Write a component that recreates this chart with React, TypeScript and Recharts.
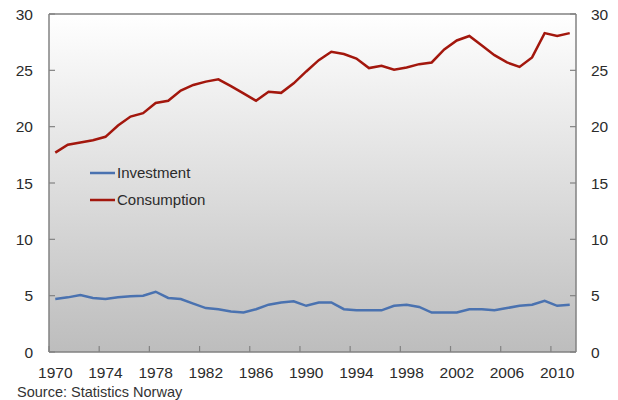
import { LineChart, Line, XAxis, YAxis, CartesianGrid, ReferenceLine, Legend } from 'recharts'

const years = [
  1970, 1971, 1972, 1973, 1974, 1975, 1976, 1977, 1978, 1979,
  1980, 1981, 1982, 1983, 1984, 1985, 1986, 1987, 1988, 1989,
  1990, 1991, 1992, 1993, 1994, 1995, 1996, 1997, 1998, 1999,
  2000, 2001, 2002, 2003, 2004, 2005, 2006, 2007, 2008, 2009,
  2010, 2011,
]

const consumption = [
  17.7, 18.4, 18.6, 18.8, 19.1, 20.1, 20.9, 21.2, 22.1, 22.3,
  23.2, 23.7, 24.0, 24.2, 23.6, 22.95, 22.3, 23.1, 23.0, 23.85,
  24.9, 25.9, 26.65, 26.45, 26.05, 25.2, 25.4, 25.05, 25.25, 25.55,
  25.7, 26.85, 27.65, 28.05, 27.2, 26.35, 25.7, 25.3, 26.15, 28.3,
  28.05, 28.3,
]

const investment = [
  4.7, 4.85, 5.05, 4.8, 4.7, 4.85, 4.95, 5.0, 5.35, 4.8,
  4.7, 4.3, 3.9, 3.8, 3.6, 3.5, 3.8, 4.2, 4.4, 4.5,
  4.1, 4.4, 4.4, 3.8, 3.7, 3.7, 3.7, 4.1, 4.2, 4.0,
  3.5, 3.5, 3.5, 3.8, 3.8, 3.7, 3.9, 4.1, 4.2, 4.55,
  4.1, 4.2,
]

const xTicks = [1970, 1974, 1978, 1982, 1986, 1990, 1994, 1998, 2002, 2006, 2010]
const yTicks = [0, 5, 10, 15, 20, 25, 30]

const data = years.map((year, i) => ({
  year,
  investment: investment[i],
  consumption: consumption[i],
}))

const FONT = '"Liberation Sans", Arial, sans-serif'
const AXIS = '#828282'
const TEXT = '#2b2b2b'
const BLUE = '#4a72b0'
const RED = '#a3170d'

function LeftTick({ x, y, payload }: any) {
  return (
    <g>
      <line x1={x + 16} x2={x + 22} y1={y} y2={y} stroke={AXIS} strokeWidth={1.2} />
      <text x={x} y={y} dy="0.36em" textAnchor="end" fill={TEXT} fontSize={15.5} fontFamily={FONT}>
        {payload.value}
      </text>
    </g>
  )
}

function RightTick({ x, y, payload }: any) {
  return (
    <g>
      <line x1={x - 15} x2={x - 21} y1={y} y2={y} stroke={AXIS} strokeWidth={1.2} />
      <text x={x} y={y} dy="0.36em" textAnchor="start" fill={TEXT} fontSize={15.5} fontFamily={FONT}>
        {payload.value}
      </text>
    </g>
  )
}

// tick marks sit on the category boundary left of each labelled year
function BottomTick({ x, y, payload, width }: any) {
  const half = width / years.length / 2
  return (
    <g>
      <line x1={x - half} x2={x - half} y1={y - 15} y2={y - 21} stroke={AXIS} strokeWidth={1.2} />
      <text x={x} y={y} dy="0.71em" textAnchor="middle" fill={TEXT} fontSize={15.5} fontFamily={FONT}>
        {payload.value}
      </text>
    </g>
  )
}

function ChartLegend() {
  const items = [
    { label: 'Investment', color: BLUE },
    { label: 'Consumption', color: RED },
  ]
  return (
    <div style={{ fontFamily: FONT, fontSize: 15, color: TEXT }}>
      {items.map(it => (
        <div key={it.label} style={{ display: 'flex', alignItems: 'center', height: 27 }}>
          <svg width={27} height={6}>
            <line x1={0} x2={25} y1={3} y2={3} stroke={it.color} strokeWidth={2.5} />
          </svg>
          <span>{it.label}</span>
        </div>
      ))}
    </div>
  )
}

export default function App() {
  return (
    <div style={{ position: 'absolute', top: 0, left: 0, width: 618, height: 400, background: '#fff' }}>
      <LineChart width={618} height={400} data={data} margin={{ top: 14, right: 0, bottom: 22, left: 0 }}>
        <defs>
          <linearGradient id="plotBg" x1="0" y1="0" x2="0" y2="1">
            <stop offset="0%" stopColor="#ffffff" />
            <stop offset="100%" stopColor="#bdbdbd" />
          </linearGradient>
        </defs>
        <CartesianGrid yAxisId="left" horizontal={false} vertical={false} fill="url(#plotBg)" />
        <XAxis
          dataKey="year"
          type="number"
          domain={[1969.5, 2011.5]}
          ticks={xTicks}
          interval={0}
          height={26}
          tickSize={0}
          tickMargin={15}
          tickLine={false}
          axisLine={{ stroke: AXIS, strokeWidth: 1.5 }}
          tick={<BottomTick />}
        />
        <YAxis
          yAxisId="left"
          domain={[0, 30]}
          ticks={yTicks}
          width={49}
          tickSize={0}
          tickMargin={16}
          tickLine={false}
          axisLine={{ stroke: AXIS, strokeWidth: 1.5 }}
          tick={<LeftTick />}
        />
        <YAxis
          yAxisId="right"
          orientation="right"
          domain={[0, 30]}
          ticks={yTicks}
          width={42}
          tickSize={0}
          tickMargin={15}
          tickLine={false}
          axisLine={{ stroke: AXIS, strokeWidth: 1.5 }}
          tick={<RightTick />}
        />
        <ReferenceLine yAxisId="left" y={30} stroke={AXIS} strokeWidth={1.5} />
        <Legend
          layout="horizontal"
          verticalAlign="middle"
          align="center"
          content={<ChartLegend />}
          wrapperStyle={{ position: 'absolute', left: 90, top: 159, width: 'auto', height: 'auto' }}
        />
        <Line
          yAxisId="left"
          dataKey="investment"
          stroke={BLUE}
          strokeWidth={2.5}
          dot={false}
          isAnimationActive={false}
        />
        <Line
          yAxisId="right"
          dataKey="consumption"
          stroke={RED}
          strokeWidth={2.5}
          dot={false}
          isAnimationActive={false}
        />
      </LineChart>
      <div
        style={{
          position: 'absolute',
          left: 17,
          top: 385,
          fontFamily: FONT,
          fontSize: 14.5,
          lineHeight: '14.5px',
          color: '#333',
          whiteSpace: 'nowrap',
        }}
      >
        Source: Statistics Norway
      </div>
    </div>
  )
}
